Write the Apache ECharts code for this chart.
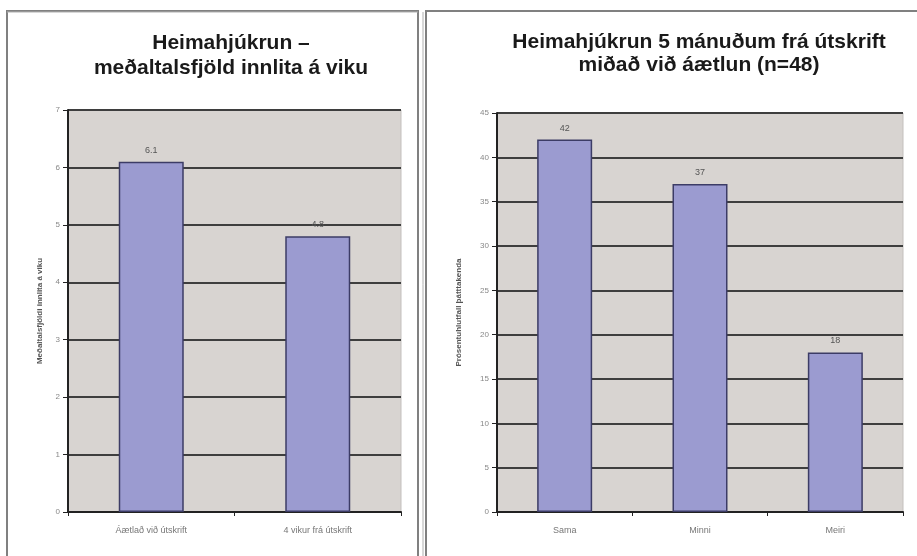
<!DOCTYPE html>
<html>
<head>
<meta charset="utf-8">
<script src="https://cdn.jsdelivr.net/npm/echarts@6/dist/echarts.min.js"></script>
<style>
  html, body { margin: 0; padding: 0; background: #fff; }
  #chart { width: 917px; height: 556px; }
</style>
</head>
<body>
<div id="chart"></div>
<script>
// Left panel: average weekly home-care visits
const visitCategories = ['Áætlað við útskrift', '4 vikur frá útskrift'];
const visitValues = [6.1, 4.8];
const visitTicks = [0, 1, 2, 3, 4, 5, 6, 7];

// Right panel: home care 5 months after discharge vs. plan (n=48)
const planCategories = ['Sama', 'Minni', 'Meiri'];
const planValues = [42, 37, 18];
const planTicks = [0, 5, 10, 15, 20, 25, 30, 35, 40, 45];

const FONT = '"Liberation Sans", Arial, sans-serif';
const plotBg = '#d8d4d1';
const barFill = '#9b9bd0';
const barEdge = '#3c3c66';

function yAxisFor(gridIndex, ticks, name, nameGap) {
  return {
    gridIndex: gridIndex,
    type: 'value',
    min: ticks[0],
    max: ticks[ticks.length - 1],
    interval: ticks[1] - ticks[0],
    name: name,
    nameLocation: 'middle',
    nameGap: nameGap,
    nameTextStyle: { fontFamily: FONT, fontSize: 8, color: '#555', fontWeight: 'bold' },
    axisLine: { show: true, lineStyle: { color: '#222', width: 2 } },
    axisTick: { show: true, length: 5, lineStyle: { color: '#222', width: 1 } },
    axisLabel: { fontFamily: FONT, fontSize: 8, color: '#888', margin: 8 },
    splitLine: { show: true, lineStyle: { color: '#3e3e3e', width: 2 } }
  };
}

function xAxisFor(gridIndex, cats) {
  return {
    gridIndex: gridIndex,
    type: 'category',
    data: cats,
    axisLine: { show: true, lineStyle: { color: '#222', width: 2 } },
    axisTick: { show: true, length: 4, lineStyle: { color: '#222' } },
    axisLabel: { fontFamily: FONT, fontSize: 9, color: '#777', margin: 14 }
  };
}

function barSeries(idx, values, width) {
  return {
    type: 'bar',
    xAxisIndex: idx,
    yAxisIndex: idx,
    data: values,
    barWidth: width,
    itemStyle: { color: barFill, borderColor: barEdge, borderWidth: 1.5 },
    label: {
      show: true,
      position: 'top',
      distance: 7,
      fontFamily: FONT,
      fontSize: 9,
      color: '#555'
    },
    silent: true
  };
}

const chart = echarts.init(document.getElementById('chart'), null, { renderer: 'canvas' });

chart.setOption({
  backgroundColor: '#ffffff',
  animation: false,
  title: [
    {
      text: 'Heimahjúkrun –\nmeðaltalsfjöld innlita á viku',
      left: 226, top: 26, textAlign: 'center',
      textStyle: { fontFamily: FONT, fontSize: 21, fontWeight: 'bold', color: '#1a1a1a', lineHeight: 25 }
    },
    {
      text: 'Heimahjúkrun 5 mánuðum frá útskrift\nmiðað við áætlun (n=48)',
      left: 694, top: 26, textAlign: 'center',
      textStyle: { fontFamily: FONT, fontSize: 21, fontWeight: 'bold', color: '#1a1a1a', lineHeight: 23 }
    }
  ],
  grid: [
    { left: 68, top: 110, width: 333, height: 402, show: true, backgroundColor: plotBg, borderColor: '#c4c0bd', borderWidth: 1 },
    { left: 497, top: 113, width: 406, height: 399, show: true, backgroundColor: plotBg, borderColor: '#c4c0bd', borderWidth: 1 }
  ],
  xAxis: [xAxisFor(0, visitCategories), xAxisFor(1, planCategories)],
  yAxis: [
    yAxisFor(0, visitTicks, 'Meðaltalsfjöldi innlita á viku', 24),
    yAxisFor(1, planTicks, 'Prósentuhlutfall þátttakenda', 34)
  ],
  series: [barSeries(0, visitValues, 65), barSeries(1, planValues, 55)],
  graphic: [
    // panel frames drawn as double grey rules
    { type: 'polyline', silent: true, shape: { points: [[7, 560], [7, 11], [418, 11], [418, 560]] }, style: { fill: null, stroke: '#808080', lineWidth: 2 } },
    { type: 'polyline', silent: true, shape: { points: [[7, 12], [418, 12]] }, style: { stroke: '#b0b0b0', lineWidth: 1 } },
    { type: 'polyline', silent: true, shape: { points: [[426, 560], [426, 11], [920, 11]] }, style: { fill: null, stroke: '#808080', lineWidth: 2 } },
    { type: 'polyline', silent: true, shape: { points: [[423, 560], [423, 12]] }, style: { stroke: '#b0b0b0', lineWidth: 1 } }
  ]
});
</script>
</body>
</html>
